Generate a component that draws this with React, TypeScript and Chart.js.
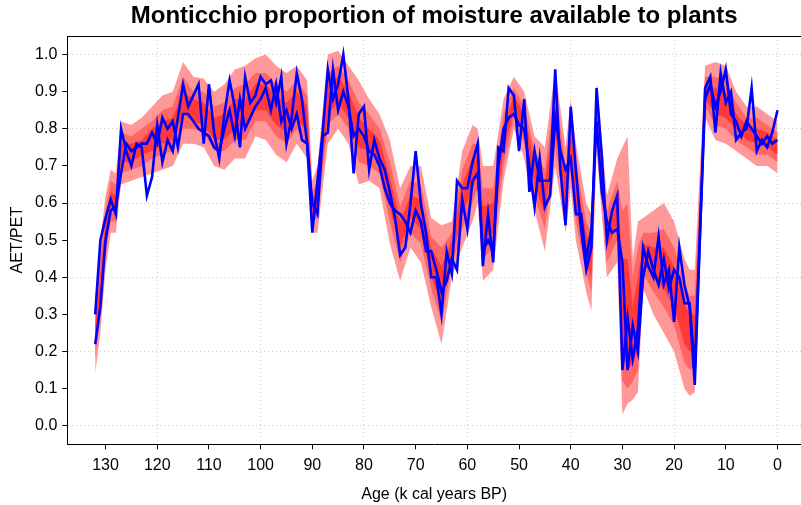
import React, { useEffect, useRef } from 'react';
import Chart from 'chart.js/auto';

// ---- data ----
const lineAges = [132,131,130,129,128,127,126,125,124,123,122,121,120,119,118,117,116,115,114,113,112,111,110,109,108,107,106,105,104,103,102,101,100,99,98,97,96,95,94,93,92,91,90,89,88,87,86,85,84,83,82,81,80,79,78,77,76,75,74,73,72,71,70,69,68,67,66,65,64,63,62,61,60,59,58,57,56,55,54,53,52,51,50,49,48,47,46,45,44,43,42,41,40,39,38,37,36,35,34,33,32,31,30,29,28,27,26,25,24,23,22,21,20,19,18,17,16,14,13,12,11,10,9,8,7,6,5,4,3,2,1,0];

const lineA = [.30,.50,.56,.61,.57,.80,.74,.70,.76,.75,.62,.67,.81,.71,.77,.74,.83,.92,.86,.89,.92,.76,.92,.79,.72,.84,.93,.86,.75,.94,.87,.89,.94,.92,.93,.87,.94,.76,.83,.95,.88,.76,.52,.66,.79,.96,.88,.92,1.00,.88,.68,.84,.86,.69,.77,.72,.69,.63,.56,.46,.48,.60,.74,.60,.52,.40,.40,.30,.47,.41,.66,.64,.64,.71,.76,.43,.57,.44,.75,.74,.91,.89,.74,.88,.63,.74,.66,.66,.66,.96,.69,.54,.86,.69,.53,.42,.48,.91,.73,.50,.58,.62,.15,.29,.18,.26,.48,.43,.40,.51,.38,.42,.28,.48,.38,.32,.11,.91,.94,.79,.95,.87,.90,.77,.79,.80,.91,.74,.77,.75,.79,.85];

const lineB = [.22,.32,.50,.58,.59,.68,.76,.74,.75,.76,.76,.79,.76,.83,.80,.82,.75,.84,.84,.82,.80,.79,.78,.75,.74,.80,.85,.78,.88,.80,.83,.86,.88,.91,.85,.92,.82,.85,.80,.84,.77,.76,.60,.57,.78,.79,.96,.85,.90,.86,.78,.80,.78,.74,.73,.70,.64,.60,.58,.57,.55,.52,.58,.55,.47,.47,.42,.36,.39,.45,.42,.61,.53,.66,.68,.47,.50,.47,.70,.80,.83,.84,.81,.80,.70,.59,.72,.59,.62,.83,.74,.69,.72,.57,.57,.45,.53,.82,.63,.55,.52,.53,.44,.15,.27,.20,.40,.47,.42,.38,.45,.37,.42,.40,.33,.33,.15,.88,.92,.86,.90,.96,.84,.82,.78,.82,.80,.78,.76,.78,.76,.77];

const bandAges = [132,131,130,129,128,127,125,123,121,119,117,115,113,111,109,107,105,103,101,99,97,95,93,91,90,89,87,85,83,81,79,77,75,73,71,69,67,65,63,61,59,58,57,55,53,51,49,47,45,43,41,40,39,37,36,35,33,31,30,29,28,27,26,24,22,20,18,17,16,14,12,10,8,6,4,2,0];

const outerHi = [.34,.50,.62,.69,.68,.82,.81,.83,.86,.89,.90,.98,.94,.935,.90,.92,.96,.97,.99,1.00,.97,.95,.97,.93,.66,.70,1.00,1.01,.97,.93,.88,.84,.77,.64,.70,.70,.56,.54,.55,.74,.81,.80,.70,.70,.88,.94,.90,.78,.75,.96,.75,.88,.76,.60,.57,.92,.62,.72,.75,.78,.45,.55,.56,.58,.60,.55,.45,.42,.42,.97,.98,.97,.90,.86,.86,.84,.82];
const outerLo = [.14,.25,.42,.52,.52,.65,.66,.67,.68,.69,.70,.76,.76,.75,.70,.69,.72,.72,.78,.77,.73,.71,.76,.72,.52,.52,.76,.80,.76,.65,.66,.64,.49,.39,.48,.44,.32,.22,.40,.48,.55,.60,.39,.42,.66,.80,.72,.58,.47,.70,.52,.64,.50,.36,.31,.74,.40,.44,.03,.06,.07,.09,.37,.30,.25,.20,.10,.08,.09,.83,.77,.76,.74,.72,.70,.70,.68];
const midHi = [.30,.45,.58,.66,.65,.79,.78,.80,.82,.85,.86,.94,.90,.90,.86,.87,.91,.92,.95,.95,.92,.90,.93,.89,.63,.66,.95,.97,.93,.87,.84,.80,.71,.59,.66,.65,.51,.48,.52,.69,.76,.76,.64,.64,.84,.91,.86,.74,.69,.91,.70,.83,.71,.55,.52,.88,.58,.66,.58,.60,.40,.48,.52,.52,.53,.48,.38,.35,.35,.94,.94,.93,.87,.83,.83,.81,.79];
const midLo = [.18,.30,.46,.55,.55,.68,.69,.70,.72,.73,.74,.80,.80,.79,.74,.74,.77,.77,.82,.82,.78,.76,.80,.76,.55,.56,.81,.84,.80,.71,.70,.68,.55,.44,.52,.49,.37,.28,.43,.53,.60,.64,.45,.48,.70,.83,.76,.62,.53,.75,.57,.69,.55,.41,.36,.78,.44,.50,.12,.10,.12,.15,.41,.36,.32,.27,.17,.15,.16,.86,.81,.80,.77,.75,.73,.73,.71];
const innerHi = [.27,.41,.55,.63,.62,.76,.76,.77,.80,.82,.83,.90,.88,.87,.83,.84,.88,.88,.92,.92,.89,.87,.90,.86,.61,.64,.92,.94,.90,.83,.80,.77,.67,.55,.62,.61,.48,.43,.50,.65,.72,.73,.59,.60,.80,.89,.84,.71,.65,.87,.67,.80,.67,.52,.48,.86,.54,.62,.45,.45,.32,.40,.49,.48,.48,.43,.33,.30,.30,.92,.91,.90,.84,.81,.80,.79,.77];
const innerLo = [.21,.34,.49,.58,.58,.71,.71,.73,.74,.76,.77,.84,.82,.81,.77,.77,.80,.81,.85,.85,.81,.79,.83,.79,.57,.58,.84,.87,.83,.75,.74,.71,.59,.48,.56,.53,.40,.33,.45,.57,.64,.67,.50,.52,.74,.85,.78,.65,.57,.79,.60,.72,.59,.44,.40,.80,.48,.54,.20,.15,.17,.20,.44,.40,.37,.32,.22,.20,.21,.88,.84,.83,.80,.77,.76,.75,.73];

const xTicks = [130,120,110,100,90,80,70,60,50,40,30,20,10,0];
const yTicks = [0,0.1,0.2,0.3,0.4,0.5,0.6,0.7,0.8,0.9,1.0];

const FONT = "'Liberation Sans', Arial, sans-serif";

export default function App() {
  const ref = useRef<HTMLCanvasElement>(null);
  useEffect(() => {
    document.body.style.margin = '0';
    const pts = (xs: number[], ys: number[]) => xs.map((x, i) => ({ x, y: ys[i] }));
    const clear = 'rgba(0,0,0,0)';
    const band = (data: number[], fill: any, color: string, order: number) => ({
      data: pts(bandAges, data),
      borderColor: clear,
      borderWidth: 0,
      backgroundColor: color,
      pointRadius: 0,
      fill,
      order,
    });
    const blue = (data: number[]) => ({
      data: pts(lineAges, data),
      borderColor: '#0000ff',
      borderWidth: 2.6,
      pointRadius: 0,
      fill: false,
      order: 0,
      borderJoinStyle: 'miter' as const,
    });
    const frame = {
      id: 'frame',
      afterDraw(chart: any) {
        const { ctx, chartArea } = chart;
        ctx.save();
        ctx.strokeStyle = '#000';
        ctx.lineWidth = 1;
        ctx.beginPath();
        ctx.moveTo(chartArea.left, chartArea.top + 0.5);
        ctx.lineTo(chartArea.right, chartArea.top + 0.5);
        ctx.stroke();
        ctx.restore();
      },
    };
    const chart = new Chart(ref.current!, {
      type: 'line',
      data: {
        datasets: [
          band(outerLo, false, clear, 3),
          band(outerHi, 0, '#ff9999', 3),
          band(midLo, false, clear, 2),
          band(midHi, 2, '#ff6666', 2),
          band(innerLo, false, clear, 1),
          band(innerHi, 4, '#ff3838', 1),
          blue(lineA),
          blue(lineB),
        ] as any,
      },
      options: {
        animation: false,
        responsive: false,
        layout: { padding: 0 },
        elements: { line: { tension: 0 }, point: { radius: 0 } },
        plugins: {
          legend: { display: false },
          tooltip: { enabled: false },
          title: {
            display: true,
            fullSize: false,
            text: 'Monticchio proportion of moisture available to plants',
            color: '#000',
            font: { family: FONT, size: 24, weight: 'bold' },
            padding: { top: 1.5, bottom: 5.7 },
          },
        },
        scales: {
          x: {
            type: 'linear',
            reverse: true,
            min: -4.55,
            max: 137.4,
            afterBuildTicks: (s: any) => { s.ticks = xTicks.map((v) => ({ value: v })); },
            afterFit: (s: any) => { s.height = 60.7; },
            grid: {
              color: (c: any) => (c.tick && c.tick.value % 20 === 0 ? '#cccccc' : clear),
              tickColor: '#000',
              tickLength: 5,
              lineWidth: 1,
            },
            border: { display: true, color: '#000', width: 1, dash: [1, 3] },
            ticks: {
              color: '#000',
              font: { family: FONT, size: 16 },
              padding: 7,
              maxRotation: 0,
              autoSkip: false,
              callback: (v: any) => String(v),
            },
            title: {
              display: true,
              text: 'Age (k cal years BP)',
              color: '#000',
              font: { family: FONT, size: 16 },
              padding: { top: 10, bottom: 0.4 },
            },
          },
          y: {
            type: 'linear',
            min: -0.05,
            max: 1.05,
            afterBuildTicks: (s: any) => { s.ticks = yTicks.map((v) => ({ value: v })); },
            afterFit: (s: any) => { s.width = 67.3; },
            grid: {
              color: (c: any) => (c.tick && Math.round(c.tick.value * 10) % 2 === 0 ? '#cccccc' : clear),
              tickColor: '#000',
              tickLength: 5,
              lineWidth: 1,
            },
            border: { display: true, color: '#000', width: 1, dash: [1, 3] },
            ticks: {
              color: '#000',
              font: { family: FONT, size: 16 },
              padding: 5,
              callback: (v: any) => Number(v).toFixed(1),
            },
            title: {
              display: true,
              text: 'AET/PET',
              color: '#000',
              font: { family: FONT, size: 16 },
              padding: { top: 8.4, bottom: 0 },
            },
          },
        },
      },
      plugins: [frame],
    });
    return () => chart.destroy();
  }, []);
  return (
    <div style={{ width: 801, height: 505 }}>
      <canvas ref={ref} width={801} height={505} style={{ display: 'block' }} />
    </div>
  );
}
